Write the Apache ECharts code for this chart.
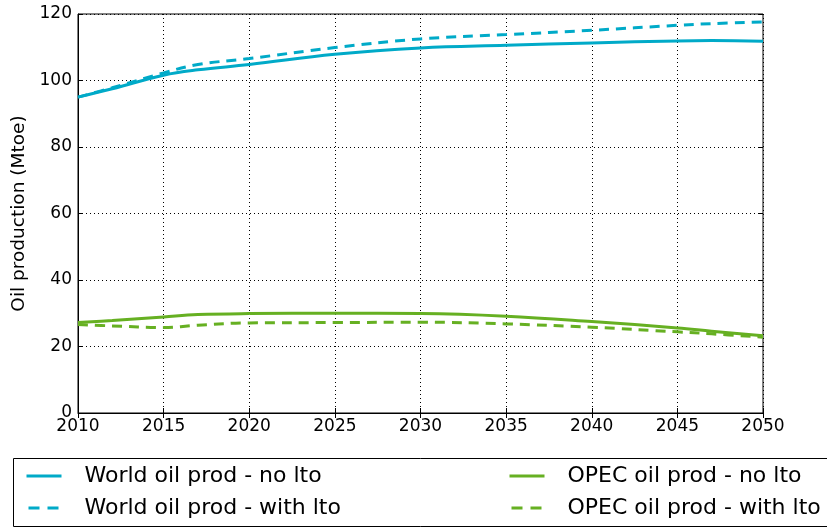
<!DOCTYPE html>
<html>
<head>
<meta charset="utf-8">
<script src="https://cdn.jsdelivr.net/npm/echarts@6/dist/echarts.min.js"></script>
<style>
  html, body { margin: 0; padding: 0; background: #fff; }
  #chart { width: 827px; height: 528px; }
</style>
</head>
<body>
<div id="chart"></div>
<script>
// Oil production outlook, Mtoe
const years = [2010, 2012, 2015, 2017, 2020, 2025, 2030, 2035, 2040, 2045, 2047, 2050];
const worldNoLto   = [95.0, 97.5, 101.6, 103.2, 104.8, 107.9, 109.8, 110.6, 111.3, 111.9, 112.0, 111.8];
const worldWithLto = [95.0, 97.8, 102.3, 104.8, 106.6, 109.9, 112.5, 113.8, 115.1, 116.6, 117.1, 117.6];
const opecNoLto    = [27.2, 27.8, 28.9, 29.6, 29.9, 30.0, 29.9, 29.1, 27.5, 25.6, 24.6, 23.2];
const opecWithLto  = [26.6, 26.2, 25.7, 26.4, 27.1, 27.2, 27.3, 26.8, 25.8, 24.4, 23.8, 22.8];

const seriesNames = [
  'World oil prod - no lto',
  'World oil prod - with lto',
  'OPEC oil prod - no lto',
  'OPEC oil prod - with lto'
];
const xTicks = { min: 2010, max: 2050, step: 5 };
const yTicks = { min: 0, max: 120, step: 20 };

const CYAN = '#00aac8';
const GREEN = '#66b022';
const FONT = 'DejaVu Sans';

const pairs = vals => years.map((y, i) => [y, vals[i]]);

function lineSeries(name, vals, color, dashed) {
  return {
    name: name,
    type: 'line',
    data: pairs(vals),
    smooth: 0.4,
    showSymbol: false,
    symbol: 'none',
    lineStyle: { color: color, width: 3, type: dashed ? [10, 7] : 'solid' },
    itemStyle: { color: color },
    z: 3
  };
}

const chart = echarts.init(document.getElementById('chart'), null, { renderer: 'canvas' });

const gridLine = { show: true, lineStyle: { color: '#000', type: [1, 3], width: 1 } };

// solid entry, then a two-dash entry for the "with lto" scenario
function legendBlock(names, left) {
  return {
    data: [
      { name: names[0], lineStyle: { width: 3 } },
      { name: names[1], lineStyle: { width: 3, type: [11, 8], dashOffset: -2 } }
    ],
    orient: 'vertical', left: left, top: 465, padding: 0,
    itemWidth: 35, itemHeight: 14, itemGap: 10,
    icon: 'inherit',
    itemStyle: { opacity: 0 },
    textStyle: { color: '#000', fontSize: 22, lineHeight: 22, fontFamily: FONT, padding: [0, 0, 0, 18] },
    selectedMode: false
  };
}

chart.setOption({
  animation: false,
  textStyle: { fontFamily: FONT },
  grid: {
    left: 78, right: 64, top: 14, bottom: 115,
    show: true, borderColor: '#000', borderWidth: 1, backgroundColor: 'transparent'
  },
  xAxis: [{
    type: 'value', min: xTicks.min, max: xTicks.max, interval: xTicks.step,
    axisLine: { show: true, lineStyle: { color: '#000', width: 1 } },
    axisTick: { show: true, inside: true, length: 5, lineStyle: { color: '#000' } },
    axisLabel: { color: '#000', fontSize: 17, fontFamily: FONT, margin: 5, formatter: v => String(v) },
    splitLine: gridLine
  }, {
    type: 'value', position: 'top', min: xTicks.min, max: xTicks.max, interval: xTicks.step,
    axisLine: { show: false },
    axisTick: { show: true, inside: true, length: 5, lineStyle: { color: '#000' } },
    axisLabel: { show: false },
    splitLine: { show: false }
  }],
  yAxis: [{
    type: 'value', min: yTicks.min, max: yTicks.max, interval: yTicks.step,
    name: 'Oil production (Mtoe)', nameLocation: 'middle', nameGap: 48,
    nameTextStyle: { color: '#000', fontSize: 18.5, fontFamily: FONT },
    axisLine: { show: true, lineStyle: { color: '#000', width: 1 } },
    axisTick: { show: true, inside: true, length: 5, lineStyle: { color: '#000' } },
    axisLabel: { color: '#000', fontSize: 17, fontFamily: FONT, margin: 6 },
    splitLine: gridLine
  }, {
    type: 'value', position: 'right', min: yTicks.min, max: yTicks.max, interval: yTicks.step,
    axisLine: { show: false },
    axisTick: { show: true, inside: true, length: 5, lineStyle: { color: '#000' } },
    axisLabel: { show: false },
    splitLine: { show: false }
  }],
  legend: [
    legendBlock([seriesNames[0], seriesNames[1]], 25),
    legendBlock([seriesNames[2], seriesNames[3]], 508)
  ],
  graphic: [{
    type: 'rect',
    shape: { x: 13.5, y: 458.5, width: 830, height: 68 },
    style: { fill: 'none', stroke: '#000', lineWidth: 1 },
    silent: true
  }],
  series: [
    lineSeries(seriesNames[0], worldNoLto, CYAN, false),
    lineSeries(seriesNames[1], worldWithLto, CYAN, true),
    lineSeries(seriesNames[2], opecNoLto, GREEN, false),
    lineSeries(seriesNames[3], opecWithLto, GREEN, true)
  ]
});
</script>
</body>
</html>
